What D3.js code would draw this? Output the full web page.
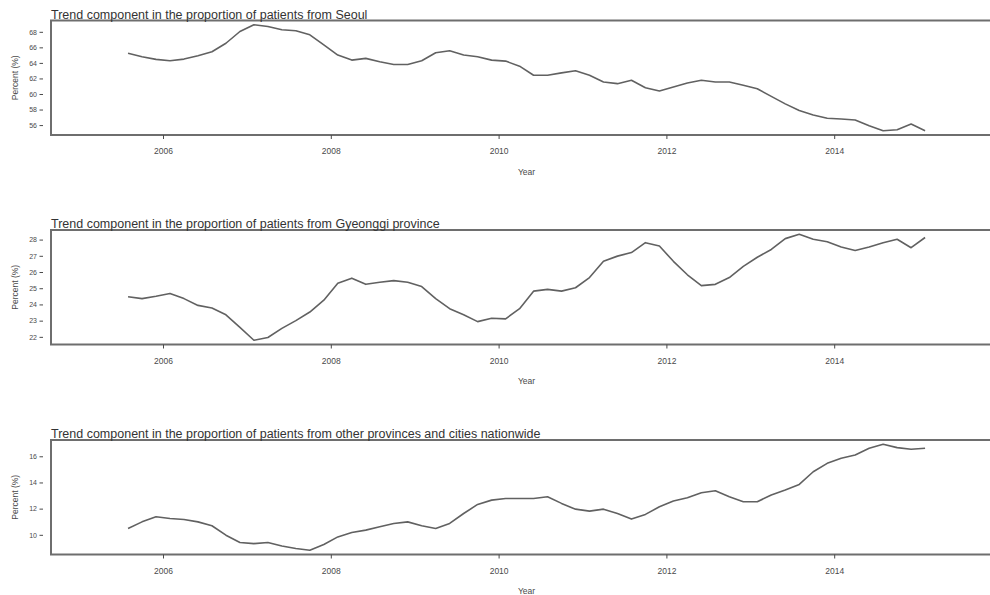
<!DOCTYPE html>
<html>
<head>
<meta charset="utf-8">
<script src="https://cdn.jsdelivr.net/npm/d3@7"></script>
<style>
  html, body { margin: 0; padding: 0; background: #fff; }
  svg { display: block; font-family: "Liberation Sans", Arial, sans-serif; }
</style>
</head>
<body>
<svg id="chart" width="990" height="595"></svg>
<script>
// Observation dates (every second month, Aug 2005 – Feb 2015)
const dates = [
  "2005-08","2005-10","2005-12",
  "2006-02","2006-04","2006-06","2006-08","2006-10","2006-12",
  "2007-02","2007-04","2007-06","2007-08","2007-10","2007-12",
  "2008-02","2008-04","2008-06","2008-08","2008-10","2008-12",
  "2009-02","2009-04","2009-06","2009-08","2009-10","2009-12",
  "2010-02","2010-04","2010-06","2010-08","2010-10","2010-12",
  "2011-02","2011-04","2011-06","2011-08","2011-10","2011-12",
  "2012-02","2012-04","2012-06","2012-08","2012-10","2012-12",
  "2013-02","2013-04","2013-06","2013-08","2013-10","2013-12",
  "2014-02","2014-04","2014-06","2014-08","2014-10","2014-12",
  "2015-02"
];

// Trend component (%) of patients by region of residence
const seoul = [
  65.23, 64.79, 64.45, 64.28, 64.49, 64.93, 65.44, 66.53, 68.04, 68.91,
  68.69, 68.26, 68.13, 67.61, 66.31, 65.01, 64.36, 64.58, 64.15, 63.80,
  63.80, 64.28, 65.31, 65.57, 65.01, 64.79, 64.36, 64.23, 63.58,
  62.41, 62.41, 62.72, 62.98, 62.41, 61.55, 61.33, 61.77, 60.81, 60.38,
  60.90, 61.42, 61.77, 61.55, 61.55, 61.12, 60.68, 59.69, 58.73, 57.87,
  57.31, 56.87, 56.79, 56.66, 55.92, 55.27, 55.40, 56.14, 55.27
];
const gyeonggi = [
  24.47, 24.36, 24.51, 24.68, 24.36, 23.94, 23.78, 23.36, 22.59, 21.79,
  21.96, 22.52, 23.00, 23.53, 24.26, 25.30, 25.62, 25.24, 25.37, 25.47,
  25.37, 25.10, 24.36, 23.74, 23.36, 22.94, 23.15, 23.11, 23.74,
  24.82, 24.93, 24.82, 25.03, 25.66, 26.66, 26.98, 27.20, 27.81, 27.60,
  26.66, 25.83, 25.16, 25.24, 25.66, 26.35, 26.91, 27.39, 28.06, 28.33,
  28.02, 27.87, 27.54, 27.33, 27.54, 27.81, 28.02, 27.50, 28.13
];
const otherRegions = [
  10.48, 10.99, 11.38, 11.25, 11.17, 10.99, 10.69, 9.97, 9.41, 9.33,
  9.41, 9.15, 8.95, 8.82, 9.26, 9.84, 10.18, 10.36, 10.61, 10.87,
  10.99, 10.69, 10.48, 10.87, 11.63, 12.32, 12.65, 12.78, 12.78,
  12.78, 12.91, 12.40, 11.96, 11.81, 11.96, 11.63, 11.20, 11.56, 12.14,
  12.58, 12.83, 13.22, 13.37, 12.91, 12.53, 12.53, 13.04, 13.42, 13.85,
  14.82, 15.46, 15.85, 16.10, 16.61, 16.92, 16.66, 16.54, 16.61
];

// Axis tick labels
const yearTicks = [2006, 2008, 2010, 2012, 2014];
const seoulTicks = [56, 58, 60, 62, 64, 66, 68];
const gyeonggiTicks = [22, 23, 24, 25, 26, 27, 28];
const otherTicks = [10, 12, 14, 16];

const titles = [
  "Trend component in the proportion of patients from Seoul",
  "Trend component in the proportion of patients from Gyeonggi province",
  "Trend component in the proportion of patients from other provinces and cities nationwide"
];

// decimal year of each observation
const parseMonth = d3.timeParse("%Y-%m");
const years = dates.map(s => {
  const d = parseMonth(s);
  return d.getFullYear() + d.getMonth() / 12;
});

const svg = d3.select("#chart");
const left = 51, right = 1002;
const x = d3.scaleLinear().domain([2004.665, 2016]).range([left, right]);

const panels = [
  { title: titles[0], values: seoul,        ticks: seoulTicks,    top: 20.5 },
  { title: titles[1], values: gyeonggi,     ticks: gyeonggiTicks, top: 230 },
  { title: titles[2], values: otherRegions, ticks: otherTicks,    top: 440 }
];
const height = 114.5;
const ink = "#333";
const axisInk = "#4a4a4a";
const boxColor = "#6e6e6e";
const lineColor = "#616161";

panels.forEach(p => {
  const top = p.top, bottom = top + height;
  // y range padded by 4% on each side of the data extent
  const [lo, hi] = d3.extent(p.values);
  const pad = (hi - lo) * 0.04;
  const y = d3.scaleLinear().domain([lo - pad, hi + pad]).range([bottom, top]);

  const g = svg.append("g");

  // plot frame
  g.append("path")
    .attr("d", `M${right},${top}H${left}V${bottom}H${right}`)
    .attr("fill", "none")
    .attr("stroke", boxColor)
    .attr("stroke-width", 2);

  // x axis: ticks and year labels
  const xAxis = d3.axisBottom(x).tickValues(yearTicks).tickFormat(d3.format("d"))
    .tickSize(4).tickPadding(9);
  const xg = g.append("g").attr("transform", `translate(0,${bottom})`).call(xAxis);
  xg.select(".domain").remove();
  xg.selectAll(".tick line").attr("stroke", axisInk).attr("stroke-width", 1);
  xg.selectAll(".tick text").attr("fill", axisInk).attr("font-size", 8.5)
    .attr("font-family", "Liberation Sans, Arial, sans-serif");

  // y axis: short ticks set slightly off the frame
  const yAxis = d3.axisLeft(y).tickValues(p.ticks).tickFormat(d3.format("d"))
    .tickSize(3.5).tickPadding(2.5);
  const yg = g.append("g").attr("transform", `translate(${left - 8},0)`).call(yAxis);
  yg.select(".domain").remove();
  yg.selectAll(".tick line").attr("stroke", axisInk).attr("stroke-width", 1);
  yg.selectAll(".tick text").attr("fill", axisInk).attr("font-size", 7)
    .attr("font-family", "Liberation Sans, Arial, sans-serif");

  // axis titles
  g.append("text")
    .attr("transform", `translate(16,${(top + bottom) / 2}) rotate(-90)`)
    .attr("text-anchor", "middle")
    .attr("dominant-baseline", "middle")
    .attr("font-size", 8.5)
    .attr("fill", axisInk)
    .text("Percent (%)");
  g.append("text")
    .attr("x", (left + right) / 2)
    .attr("y", bottom + 39.5)
    .attr("text-anchor", "middle")
    .attr("font-size", 8.5)
    .attr("fill", axisInk)
    .text("Year");

  // panel title
  g.append("text")
    .attr("x", left)
    .attr("y", top - 2)
    .attr("font-size", 12.5)
    .attr("fill", ink)
    .text(p.title);

  // trend line
  const line = d3.line().x((d, i) => x(years[i])).y(d => y(d));
  g.append("path")
    .datum(p.values)
    .attr("d", line)
    .attr("fill", "none")
    .attr("stroke", lineColor)
    .attr("stroke-width", 1.6)
    .attr("stroke-linejoin", "round");
});
</script>
</body>
</html>
